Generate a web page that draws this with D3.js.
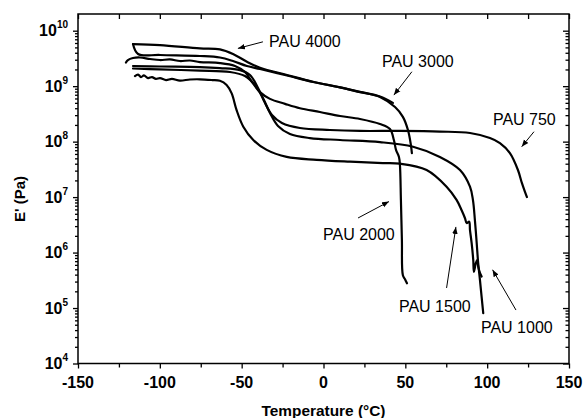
<!DOCTYPE html>
<html>
<head>
<meta charset="utf-8">
<script src="https://cdn.jsdelivr.net/npm/d3@7"></script>
<style>
  html, body { margin: 0; padding: 0; background: #fff; }
  svg { display: block; }
  text { font-family: "Liberation Sans", Arial, sans-serif; fill: #000; }
</style>
</head>
<body>
<svg id="chart" width="583" height="418"></svg>
<script>
// ---------- data ----------
const xTickValues = [-150, -100, -50, 0, 50, 100, 150];
const xMinorTickValues = [-125, -75, -25, 25, 75, 125];
const yTickExponents = [4, 5, 6, 7, 8, 9, 10];

const seriesNames = ["PAU 4000", "PAU 3000", "PAU 2000", "PAU 750", "PAU 1000", "PAU 1500"];

const pau4000T = [-116.4, -99.9, -75.5, -63.3, -55.3, -46.8, -38.8, -22.3, -6.4, 10.1, 22.3, 34.5, 42.4];
const pau4000E = [5.75e9, 5.5e9, 4.8e9, 4.6e9, 3.8e9, 2.76e9, 2.15e9, 1.59e9, 1.2e9, 9.5e8, 7.9e8, 6.5e8, 5.0e8];

const pau3000T = [-116.4, -113.3, -99.9, -75.5, -63.3, -55.3, -46.8, -38.8, -22.3, -6.4, 10.1, 22.3, 34.5, 43.7, 48.5, 51.6, 53.4, 54.0];
const pau3000E = [5.75e9, 3.8e9, 3.65e9, 3.5e9, 3.29e9, 2.84e9, 2.31e9, 2.04e9, 1.56e9, 1.19e9, 9.5e8, 7.8e8, 6.4e8, 4.2e8, 2.8e8, 1.62e8, 8.7e7, 6.2e7];

const pau2000T = [-120.7, -119.5, -116.4, -112.1, -106.0, -99.9, -93.8, -87.7, -81.6, -75.5, -63.3, -54.1, -48.0, -43.7, -38.8, -32.7, -23.5, -14.4, -2.2, 10.1, 22.3, 34.5, 40.6, 43.0, 44.3, 46.1, 46.7, 47.3, 47.9, 48.5, 49.8, 51.0];
const pau2000E = [2.67e9, 2.96e9, 3.22e9, 3.29e9, 3.09e9, 2.96e9, 3.03e9, 2.84e9, 2.9e9, 2.72e9, 2.61e9, 2.31e9, 1.8e9, 1.19e9, 7.8e8, 5.9e8, 4.8e8, 4.0e8, 3.42e8, 2.9e8, 2.56e8, 2.08e8, 1.69e8, 1.07e8, 7.1e7, 5.3e7, 3.8e7, 8.9e6, 1.68e6, 3.9e5, 3.3e5, 2.8e5];

const pau750T = [-116.4, -99.9, -75.5, -63.3, -51.0, -44.9, -40.0, -35.8, -31.5, -25.4, -14.4, 3.9, 22.3, 46.7, 71.1, 89.5, 101.7, 107.8, 113.9, 118.8, 121.2, 123.1, 124.3];
const pau750E = [2.31e9, 2.26e9, 2.21e9, 2.12e9, 1.95e9, 1.59e9, 9.3e8, 5.0e8, 3.02e8, 2.17e8, 1.76e8, 1.62e8, 1.56e8, 1.56e8, 1.52e8, 1.43e8, 1.16e8, 9.4e7, 6.2e7, 3.08e7, 1.8e7, 1.24e7, 1.0e7];

const pau1000T = [-116.4, -99.9, -75.5, -57.1, -48.0, -41.9, -37.0, -32.7, -27.8, -20.5, -8.3, 10.1, 34.5, 54.7, 71.1, 83.4, 89.5, 91.3, 92.5, 93.6, 94.5, 95.6, 96.6, 97.6];
const pau1000E = [2.08e9, 2.0e9, 1.91e9, 1.8e9, 1.52e9, 1.05e9, 6.1e8, 3.28e8, 1.91e8, 1.37e8, 1.16e8, 1.07e8, 9.8e7, 8.1e7, 5.3e7, 3.08e7, 1.54e7, 8.9e6, 3.86e6, 1.49e6, 6.5e5, 3.2e5, 1.6e5, 8.1e4];

const pau1500T = [-115.2, -113.3, -111.5, -109.7, -107.2, -104.8, -102.4, -99.9, -96.2, -92.6, -87.7, -81.6, -75.5, -68.1, -63.3, -59.2, -56.1, -53.1, -49.0, -42.9, -34.7, -22.5, -4.2, 16.2, 36.3, 46.7, 63.0, 75.2, 81.3, 84.4, 86.4, 87.5, 89.0, 89.5, 90.5, 91.5, 91.9, 93.1, 93.9, 94.5, 95.6, 96.6];
const pau1500E = [1.52e9, 1.62e9, 1.46e9, 1.56e9, 1.40e9, 1.46e9, 1.35e9, 1.40e9, 1.29e9, 1.35e9, 1.26e9, 1.32e9, 1.33e9, 1.29e9, 1.25e9, 1.05e9, 7.4e8, 3.7e8, 1.86e8, 1.07e8, 7.1e7, 5.3e7, 4.7e7, 4.35e7, 4.1e7, 4.0e7, 3.08e7, 1.54e7, 8.9e6, 5.8e6, 4.2e6, 3.4e6, 3.6e6, 2.55e6, 1.49e6, 7.3e5, 4.5e5, 6.5e5, 7.3e5, 5.6e5, 4.3e5, 3.7e5];

// annotations: label text position and arrow (tail -> tip), in data units
const annoLabels = ["PAU 4000", "PAU 3000", "PAU 750", "PAU 2000", "PAU 1500", "PAU 1000"];
const annoTextT  = [-33.3, 35.7, 103.5, -0.3, 46.1, 96.2];
const annoTextE  = [5.1e9, 2.24e9, 2.0e8, 1.68e6, 8.5e4, 3.5e4];
const arrowFromT = [-37.0, 54.0, 128.6, 21.1, 75.2, 117.6];
const arrowFromE = [6.3e9, 1.82e9, 1.51e8, 4.2e6, 2.3e5, 9.2e4];
const arrowToT   = [-52.3, 43.0, 121.1, 40.0, 80.9, 103.3];
const arrowToE   = [4.8e9, 6.9e8, 8.1e7, 8.3e6, 2.9e6, 4.9e5];

// ---------- layout ----------
const W = 583, H = 418;
const plot = { left: 78, right: 569, top: 14, bottom: 363.5 };

const svg = d3.select("#chart");

const x = d3.scaleLinear().domain([-150, 150]).range([plot.left, plot.right]);
const y = d3.scaleLog().domain([1e4, 2e10]).range([plot.bottom, plot.top]);

const seriesData = [
  [pau4000T, pau4000E], [pau3000T, pau3000E], [pau2000T, pau2000E],
  [pau750T, pau750E], [pau1000T, pau1000E], [pau1500T, pau1500E]
].map(([T, E], i) => ({ name: seriesNames[i], pts: T.map((t, j) => [t, E[j]]) }));

// minor log ticks
const yMinor = [];
for (const e of yTickExponents) {
  for (let m = 2; m <= 9; m++) {
    const v = m * Math.pow(10, e);
    if (v < 2e10) yMinor.push(v);
  }
}
const yMajor = yTickExponents.map(e => Math.pow(10, e));

// ---------- curves ----------
const line = d3.line()
  .x(d => x(d[0]))
  .y(d => y(d[1]))
  .curve(d3.curveCatmullRom.alpha(0.5));

svg.append("g").selectAll("path")
  .data(seriesData)
  .join("path")
  .attr("d", d => line(d.pts))
  .attr("fill", "none")
  .attr("stroke", "#000")
  .attr("stroke-width", 2.2)
  .attr("stroke-linejoin", "round")
  .attr("stroke-linecap", "round");

// ---------- axes ----------
function styleAxis(g) {
  g.select(".domain").remove();
  g.selectAll(".tick line").attr("stroke", "#000").attr("stroke-width", 1.3);
  g.selectAll(".tick text").remove();
}

// bottom (outward)
svg.append("g").attr("transform", `translate(0,${plot.bottom})`)
  .call(d3.axisBottom(x).tickValues(xTickValues).tickSize(5).tickFormat(""))
  .call(styleAxis);
svg.append("g").attr("transform", `translate(0,${plot.bottom})`)
  .call(d3.axisBottom(x).tickValues(xMinorTickValues).tickSize(4).tickFormat(""))
  .call(styleAxis);
// top (inward)
svg.append("g").attr("transform", `translate(0,${plot.top})`)
  .call(d3.axisBottom(x).tickValues(xTickValues.concat(xMinorTickValues)).tickSize(5).tickFormat(""))
  .call(styleAxis);
// left (outward)
svg.append("g").attr("transform", `translate(${plot.left},0)`)
  .call(d3.axisLeft(y).tickValues(yMajor).tickSize(5).tickFormat(""))
  .call(styleAxis);
svg.append("g").attr("transform", `translate(${plot.left},0)`)
  .call(d3.axisLeft(y).tickValues(yMinor).tickSize(3).tickFormat(""))
  .call(styleAxis);
// right (inward)
svg.append("g").attr("transform", `translate(${plot.right},0)`)
  .call(d3.axisLeft(y).tickValues(yMajor).tickSize(6).tickFormat(""))
  .call(styleAxis);
svg.append("g").attr("transform", `translate(${plot.right},0)`)
  .call(d3.axisLeft(y).tickValues(yMinor).tickSize(3.5).tickFormat(""))
  .call(styleAxis);

// frame
svg.append("rect")
  .attr("x", plot.left).attr("y", plot.top)
  .attr("width", plot.right - plot.left).attr("height", plot.bottom - plot.top)
  .attr("fill", "none").attr("stroke", "#000").attr("stroke-width", 1.5);

// x tick labels
svg.append("g").selectAll("text")
  .data(xTickValues)
  .join("text")
  .attr("x", d => x(d))
  .attr("y", 388)
  .attr("text-anchor", "middle")
  .attr("font-size", 16)
  .attr("font-weight", "bold")
  .text(d => d);

// y tick labels 10^n
const yl = svg.append("g").selectAll("text")
  .data(yTickExponents)
  .join("text")
  .attr("x", 68)
  .attr("y", d => y(Math.pow(10, d)) + 5.5)
  .attr("text-anchor", "end")
  .attr("font-weight", "bold");
yl.append("tspan").attr("font-size", 16).text("10");
yl.append("tspan").attr("font-size", 10).attr("dy", -8).text(d => d);

// axis titles
svg.append("text")
  .attr("x", x(0)).attr("y", 416)
  .attr("text-anchor", "middle")
  .attr("font-size", 15.4)
  .attr("font-weight", "bold")
  .text("Temperature (°C)");

svg.append("text")
  .attr("transform", `translate(25,199) rotate(-90)`)
  .attr("text-anchor", "middle")
  .attr("font-size", 15)
  .attr("font-weight", "bold")
  .text("E' (Pa)");

// ---------- annotations ----------
const defs = svg.append("defs");
defs.append("marker")
  .attr("id", "arrowhead")
  .attr("viewBox", "0 0 10 10")
  .attr("refX", 10).attr("refY", 5)
  .attr("markerWidth", 7).attr("markerHeight", 7)
  .attr("markerUnits", "userSpaceOnUse")
  .attr("orient", "auto")
  .append("path")
  .attr("d", "M0,1 L10,5 L0,9 Z")
  .attr("fill", "#000");

const annos = annoLabels.map((t, i) => ({
  label: t, tx: annoTextT[i], te: annoTextE[i],
  fx: arrowFromT[i], fe: arrowFromE[i], ax: arrowToT[i], ae: arrowToE[i]
}));

svg.append("g").selectAll("line")
  .data(annos)
  .join("line")
  .attr("x1", d => x(d.fx)).attr("y1", d => y(d.fe))
  .attr("x2", d => x(d.ax)).attr("y2", d => y(d.ae))
  .attr("stroke", "#000").attr("stroke-width", 1)
  .attr("marker-end", "url(#arrowhead)");

svg.append("g").selectAll("text")
  .data(annos)
  .join("text")
  .attr("x", d => x(d.tx)).attr("y", d => y(d.te))
  .attr("font-size", 16)
  .text(d => d.label);
</script>
</body>
</html>
